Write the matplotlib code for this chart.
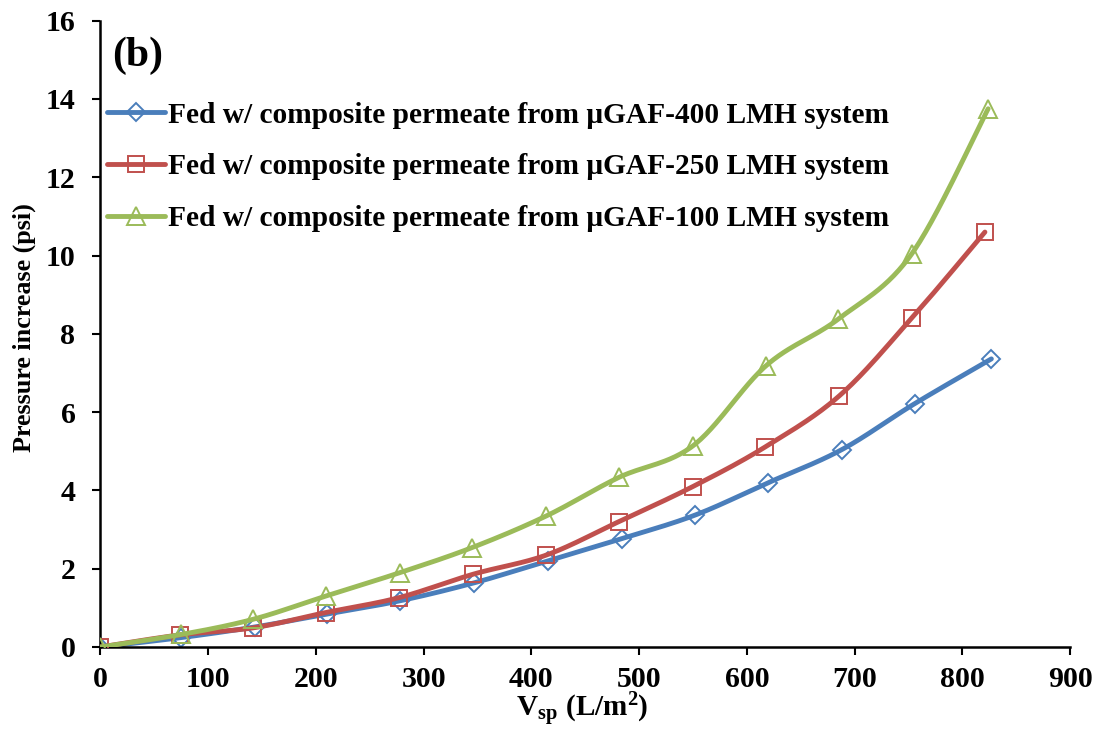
import numpy as np
import matplotlib
matplotlib.use("Agg")
import matplotlib.pyplot as plt
from matplotlib.lines import Line2D

plt.rcParams["font.family"] = ["Liberation Serif", "DejaVu Serif"]
plt.rcParams["font.weight"] = "bold"
plt.rcParams["mathtext.fontset"] = "custom"
plt.rcParams["mathtext.rm"] = "Liberation Serif:bold"
plt.rcParams["mathtext.bf"] = "Liberation Serif:bold"
plt.rcParams["mathtext.it"] = "Liberation Serif:bold"

# data
x_400 = [0, 75, 143, 210, 278, 347, 415, 484, 552, 620, 688, 756, 827]
y_400 = [0, 0.24, 0.51, 0.84, 1.18, 1.64, 2.2, 2.77, 3.37, 4.2, 5.04, 6.22, 7.36]

x_250 = [0, 74, 142, 209, 277, 346, 414, 481, 550, 617, 686, 753, 821]
y_250 = [0, 0.31, 0.49, 0.88, 1.26, 1.86, 2.35, 3.2, 4.1, 5.11, 6.42, 8.4, 10.6]

x_100 = [0, 75, 142, 209, 278, 345, 414, 481, 550, 618, 685, 753, 824]
y_100 = [0, 0.32, 0.71, 1.3, 1.9, 2.54, 3.35, 4.33, 5.14, 7.19, 8.38, 10.04, 13.75]

labels = [
    "Fed w/ composite permeate from μGAF-400 LMH system",
    "Fed w/ composite permeate from μGAF-250 LMH system",
    "Fed w/ composite permeate from μGAF-100 LMH system",
]
colors = ["#4a7ebb", "#c0504d", "#9bbb59"]
markers = ["D", "s", "^"]
msizes = [9, 12, 13]


def smooth(xs, ys, n=30):
    """Excel-style smoothed line: Catmull-Rom bezier segments through the points."""
    p = np.column_stack([xs, ys]).astype(float)
    p = np.vstack([p[0], p, p[-1]])
    t = np.linspace(0, 1, n)[:, None]
    out = []
    for i in range(1, len(p) - 2):
        p0, p1, p2, p3 = p[i - 1], p[i], p[i + 1], p[i + 2]
        c1 = p1 + (p2 - p0) / 6
        c2 = p2 - (p3 - p1) / 6
        seg = ((1 - t) ** 3) * p1 + 3 * ((1 - t) ** 2) * t * c1 + 3 * (1 - t) * t**2 * c2 + t**3 * p2
        out.append(seg)
    out = np.vstack(out)
    return out[:, 0], out[:, 1]


fig = plt.figure(figsize=(10.97, 7.29), dpi=100)
ax = fig.add_axes([0.0916, 0.1125, 0.8838, 0.8591])

series = [(x_400, y_400), (x_250, y_250), (x_100, y_100)]
handles = []
for k, (xs, ys) in enumerate(series):
    sx, sy = smooth(xs, ys)
    ax.plot(sx, sy, color=colors[k], lw=3.5, solid_capstyle="round", zorder=2 + k)
    ax.plot(xs, ys, ls="none", marker=markers[k], ms=msizes[k], mfc="none",
            mec=colors[k], mew=1.4, zorder=2 + k)
    handles.append(Line2D([], [], color=colors[k], lw=3.5, marker=markers[k],
                          ms=msizes[k], mfc="none", mec=colors[k], mew=1.4,
                          solid_capstyle="round"))

ax.set_xlim(0, 900)
ax.set_ylim(0, 16)
ax.set_xticks(np.arange(0, 901, 100))
ax.set_yticks(np.arange(0, 17, 2))
ax.tick_params(direction="out", length=6, width=1.5, labelsize=21.5)
ax.tick_params(axis="x", pad=8)
ax.tick_params(axis="y", pad=12)
for lbl in ax.get_xticklabels() + ax.get_yticklabels():
    lbl.set_fontweight("bold")

for side in ["top", "right"]:
    ax.spines[side].set_visible(False)
for side in ["left", "bottom"]:
    ax.spines[side].set_linewidth(1.8)

ax.set_ylabel("Pressure increase (psi)", fontsize=18.8, fontweight="bold")
ax.yaxis.set_label_coords(-0.066, 0.51)
ax.set_xlabel(r"$\mathbf{V_{sp}\ (L/m^{2})}$", fontsize=21)
ax.xaxis.set_label_coords(0.497, -0.07)

ax.text(0.012, 0.975, "(b)", transform=ax.transAxes, fontsize=30,
        fontweight="bold", va="top", ha="left")

leg = ax.legend(handles, labels, loc="upper left", bbox_to_anchor=(-0.011, 0.899),
                frameon=False, fontsize=21.2, handlelength=1.95, handletextpad=0.12,
                labelspacing=0.84, borderaxespad=0.2)
for t in leg.get_texts():
    t.set_fontweight("bold")

fig.savefig("out.png", dpi=100)
